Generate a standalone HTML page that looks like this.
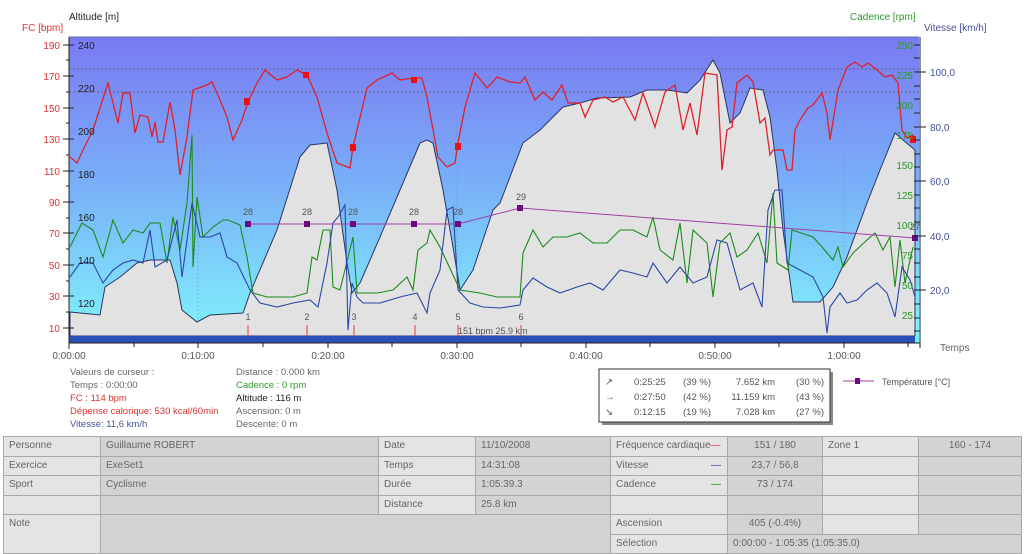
<!DOCTYPE html>
<html><head><meta charset="utf-8"><style>
body{margin:0;width:1024px;height:552px;background:#fff;overflow:hidden;font-family:"Liberation Sans",sans-serif;position:relative}
.t{position:absolute;font-size:9.5px;white-space:nowrap;color:#666}
table{position:absolute;left:3px;top:436px;border-collapse:collapse;font-size:10px;color:#666}
td{border:1px solid #a8a8a8;height:18.5px;padding:0 0 0 5px;white-space:nowrap;overflow:hidden;vertical-align:middle;line-height:12px}
.l{background:#e4e4e4}.v{background:#d3d3d3}.c{text-align:center;padding:0}
</style></head><body>
<svg width="1024" height="552" style="position:absolute;left:0;top:0" font-family="Liberation Sans, sans-serif">
<defs><linearGradient id="g" x1="0" y1="0" x2="0" y2="1"><stop offset="0" stop-color="#7a7af2"/><stop offset="0.5" stop-color="#79b0f8"/><stop offset="1" stop-color="#80f2fb"/></linearGradient></defs>
<rect x="69" y="37" width="850" height="300" fill="url(#g)"/>
<line x1="69" y1="37" x2="919" y2="37" stroke="#6a6ab0" stroke-width="1"/>
<g stroke="#8a8ac8" stroke-dasharray="2,2" stroke-width="0.7" opacity="0.7">
<line x1="198" y1="37" x2="198" y2="336"/><line x1="328" y1="37" x2="328" y2="336"/><line x1="457" y1="37" x2="457" y2="336"/><line x1="586" y1="37" x2="586" y2="336"/><line x1="715" y1="37" x2="715" y2="336"/><line x1="844" y1="37" x2="844" y2="336"/>
</g>
<g stroke="#555" stroke-dasharray="2,2" stroke-width="0.8"><line x1="69" y1="69" x2="919" y2="69"/><line x1="69" y1="92" x2="919" y2="92"/></g>
<polygon fill="#e2e2e2" stroke="#2a3560" stroke-width="1" points="70,312 100,315 105,287 120,277 137,263 150,260 170,260 177,283 182,310 197,322 210,315 243,313 250,293 277,230 300,157 310,145 327,143 337,190 347,263 352,293 360,283 380,237 400,190 420,143 427,140 433,143 443,190 453,247 460,290 473,270 493,210 500,203 523,143 540,130 563,107 580,103 597,98 630,97 647,90 667,90 687,93 700,80 713,60 720,73 730,123 740,113 750,88 763,90 770,117 777,170 783,230 793,302 820,302 833,287 847,257 867,203 880,170 895,133 903,140 915,150 915,336 70,336"/>
<rect x="69" y="336" width="846" height="7" fill="#2a4fb5"/>
<rect x="915" y="336" width="4" height="7" fill="#6ef0fb"/>
<g stroke="#e04040" stroke-width="1"><line x1="248" y1="325" x2="248" y2="336"/><line x1="307" y1="325" x2="307" y2="336"/><line x1="354" y1="325" x2="354" y2="336"/><line x1="415" y1="325" x2="415" y2="336"/><line x1="458" y1="325" x2="458" y2="336"/><line x1="521" y1="325" x2="521" y2="336"/></g>
<g font-size="9" fill="#555" text-anchor="middle"><text x="248" y="320">1</text><text x="307" y="320">2</text><text x="354" y="320">3</text><text x="415" y="320">4</text><text x="458" y="320">5</text><text x="521" y="320">6</text></g>
<text x="458" y="334" font-size="9" fill="#555">151 bpm 25.9 km</text>
<polyline fill="none" stroke="#1c8a1c" stroke-width="1.1" points="70,247 82,223 93,230 103,257 113,220 123,243 133,230 143,233 150,223 160,223 167,263 173,217 180,250 187,203 192,135 193,267 197,197 203,237 213,227 223,220 228,220 240,225 247,257 253,293 267,297 293,297 307,293 312,257 317,260 323,230 330,230 333,287 340,290 353,237 357,293 377,293 393,290 407,277 413,290 418,250 427,243 430,230 440,247 460,290 480,293 497,297 520,297 523,253 533,230 543,247 553,237 567,237 580,233 593,243 607,243 620,230 633,230 647,237 653,217 660,250 673,260 680,223 687,283 693,230 707,243 713,297 720,243 730,233 737,257 747,250 758,233 767,263 773,193 777,263 788,270 792,230 813,237 822,247 833,260 838,247 843,267 853,253 867,240 875,233 883,250 890,237 895,287 900,240 905,283 913,247"/>
<polyline fill="none" stroke="#2b47a8" stroke-width="1.1" points="70,277 80,263 93,263 103,283 113,270 123,263 133,260 143,263 150,230 155,267 167,260 177,220 182,277 192,203 200,237 210,237 220,233 227,257 237,263 250,290 260,303 277,307 293,303 310,300 318,307 327,263 333,223 338,217 345,205 348,330 352,283 357,297 363,303 380,303 400,297 417,293 427,313 430,293 440,270 447,210 453,207 458,290 470,303 483,307 500,308 520,305 523,290 533,278 547,287 560,293 577,287 590,283 603,290 620,270 633,273 647,277 653,263 667,283 680,267 693,283 707,277 717,240 727,243 740,290 753,283 762,307 768,210 775,190 782,190 787,263 813,277 823,297 827,333 830,307 840,293 847,303 857,300 867,290 877,283 887,293 895,317 902,267 910,280 915,297"/>
<polyline fill="none" stroke="#e0202a" stroke-width="1.3" points="70,157 77,163 83,150 93,130 108,83 118,123 123,93 130,93 135,133 140,115 148,117 152,137 155,122 158,142 163,142 170,102 175,130 180,175 187,137 193,90 207,85 212,82 220,100 227,117 233,140 242,120 248,102 257,83 265,70 277,80 287,77 297,70 307,75 317,97 327,133 337,163 350,168 353,147 367,88 377,80 392,73 400,80 413,78 422,78 427,97 438,157 447,167 455,163 458,143 465,107 475,73 487,88 497,77 510,82 520,83 525,77 535,100 543,92 552,100 562,85 568,103 580,103 585,117 593,100 605,97 613,102 623,97 635,120 643,93 655,127 665,92 675,85 683,130 690,103 697,135 705,73 717,75 722,170 727,130 732,127 737,83 747,75 753,82 760,123 765,118 770,155 773,150 783,150 787,170 792,170 795,130 800,120 808,108 813,105 822,93 827,113 830,140 838,90 847,67 855,62 862,67 868,63 877,70 885,77 892,75 898,83 902,130 907,138 913,135 915,140"/>
<g fill="#ee1010"><rect x="244" y="98" width="6" height="7"/><rect x="303" y="72" width="6" height="6"/><rect x="350" y="144" width="6" height="7"/><rect x="411" y="77" width="6" height="6"/><rect x="455" y="143" width="6" height="7"/><rect x="910" y="136" width="6" height="7"/></g>
<polyline fill="none" stroke="#a040a0" stroke-width="1" points="248,224 458,224 520,208 915,238"/>
<g fill="#6a0a80"><rect x="245" y="221" width="6" height="6"/><rect x="304" y="221" width="6" height="6"/><rect x="350" y="221" width="6" height="6"/><rect x="411" y="221" width="6" height="6"/><rect x="455" y="221" width="6" height="6"/><rect x="517" y="205" width="6" height="6"/><rect x="912" y="235" width="6" height="6"/></g>
<g font-size="9" fill="#555" text-anchor="middle"><text x="248" y="215">28</text><text x="307" y="215">28</text><text x="353" y="215">28</text><text x="414" y="215">28</text><text x="458" y="215">28</text><text x="521" y="200">29</text><text x="915" y="230">27</text></g>
<line x1="69" y1="37" x2="69" y2="348" stroke="#222"/>
<line x1="920" y1="37" x2="920" y2="348" stroke="#222"/>
<line x1="69" y1="343" x2="920" y2="343" stroke="#222"/>
<g stroke="#222" stroke-width="1">
<line x1="63" y1="45" x2="74" y2="45"/><line x1="63" y1="76" x2="74" y2="76"/><line x1="63" y1="108" x2="74" y2="108"/><line x1="63" y1="139" x2="74" y2="139"/><line x1="63" y1="171" x2="74" y2="171"/><line x1="63" y1="202" x2="74" y2="202"/><line x1="63" y1="233" x2="74" y2="233"/><line x1="63" y1="265" x2="74" y2="265"/><line x1="63" y1="296" x2="74" y2="296"/><line x1="63" y1="328" x2="74" y2="328"/>
<line x1="66" y1="60" x2="69" y2="60"/><line x1="66" y1="92" x2="69" y2="92"/><line x1="66" y1="123" x2="69" y2="123"/><line x1="66" y1="155" x2="69" y2="155"/><line x1="66" y1="186" x2="69" y2="186"/><line x1="66" y1="218" x2="69" y2="218"/><line x1="66" y1="249" x2="69" y2="249"/><line x1="66" y1="281" x2="69" y2="281"/><line x1="66" y1="312" x2="69" y2="312"/>
<line x1="69" y1="343" x2="69" y2="349"/><line x1="134" y1="343" x2="134" y2="347"/><line x1="198" y1="343" x2="198" y2="348"/><line x1="263" y1="343" x2="263" y2="347"/><line x1="328" y1="343" x2="328" y2="348"/><line x1="392" y1="343" x2="392" y2="347"/><line x1="457" y1="343" x2="457" y2="348"/><line x1="521" y1="343" x2="521" y2="347"/><line x1="586" y1="343" x2="586" y2="348"/><line x1="650" y1="343" x2="650" y2="347"/><line x1="715" y1="343" x2="715" y2="348"/><line x1="779" y1="343" x2="779" y2="347"/><line x1="844" y1="343" x2="844" y2="348"/><line x1="908" y1="343" x2="908" y2="347"/>
</g>
<g stroke="#222">
<line x1="914" y1="72" x2="926" y2="72"/><line x1="914" y1="127" x2="926" y2="127"/><line x1="914" y1="181" x2="926" y2="181"/><line x1="914" y1="236" x2="926" y2="236"/><line x1="914" y1="290" x2="926" y2="290"/>
<line x1="914" y1="45" x2="920" y2="45"/><line x1="914" y1="58" x2="920" y2="58"/><line x1="914" y1="86" x2="920" y2="86"/><line x1="914" y1="99" x2="920" y2="99"/><line x1="914" y1="113" x2="920" y2="113"/><line x1="914" y1="140" x2="920" y2="140"/><line x1="914" y1="154" x2="920" y2="154"/><line x1="914" y1="167" x2="920" y2="167"/><line x1="914" y1="195" x2="920" y2="195"/><line x1="914" y1="208" x2="920" y2="208"/><line x1="914" y1="222" x2="920" y2="222"/><line x1="914" y1="249" x2="920" y2="249"/><line x1="914" y1="263" x2="920" y2="263"/><line x1="914" y1="277" x2="920" y2="277"/><line x1="914" y1="304" x2="920" y2="304"/><line x1="914" y1="318" x2="920" y2="318"/><line x1="914" y1="331" x2="920" y2="331"/>
</g>
<g font-size="10" fill="#e03030" text-anchor="end"><text x="60" y="49">190</text><text x="60" y="80">170</text><text x="60" y="112">150</text><text x="60" y="143">130</text><text x="60" y="175">110</text><text x="60" y="206">90</text><text x="60" y="237">70</text><text x="60" y="269">50</text><text x="60" y="300">30</text><text x="60" y="332">10</text></g>
<g font-size="10" fill="#222"><text x="78" y="49">240</text><text x="78" y="92">220</text><text x="78" y="135">200</text><text x="78" y="178">180</text><text x="78" y="221">160</text><text x="78" y="264">140</text><text x="78" y="307">120</text></g>
<g font-size="10" fill="#2a9a2a" text-anchor="end"><text x="913" y="49">250</text><text x="913" y="79">225</text><text x="913" y="109">200</text><text x="913" y="139">175</text><text x="913" y="169">150</text><text x="913" y="199">125</text><text x="913" y="229">100</text><text x="913" y="259">75</text><text x="913" y="289">50</text><text x="913" y="319">25</text></g>
<g font-size="10" fill="#44509a"><text x="930" y="76">100,0</text><text x="930" y="131">80,0</text><text x="930" y="185">60,0</text><text x="930" y="240">40,0</text><text x="930" y="294">20,0</text></g>
<g font-size="10" fill="#555" text-anchor="middle"><text x="69" y="359">0:00:00</text><text x="198" y="359">0:10:00</text><text x="328" y="359">0:20:00</text><text x="457" y="359">0:30:00</text><text x="586" y="359">0:40:00</text><text x="715" y="359">0:50:00</text><text x="844" y="359">1:00:00</text></g>
<text x="940" y="351" font-size="10" fill="#666">Temps</text>
<text x="22" y="31" font-size="10" fill="#e03030">FC [bpm]</text>
<text x="69" y="20" font-size="10" fill="#222">Altitude  [m]</text>
<text x="850" y="20" font-size="10" fill="#2a9a2a">Cadence [rpm]</text>
<text x="924" y="31" font-size="10" fill="#44509a">Vitesse [km/h]</text>
<rect x="602" y="372" width="231" height="53" fill="#888"/>
<rect x="599" y="369" width="231" height="53" fill="#fff" stroke="#333"/>
<g font-size="9.5" fill="#555"><text x="605" y="385">↗</text><text x="605" y="400">→</text><text x="605" y="415">↘</text>
<text x="634" y="385">0:25:25</text><text x="683" y="385">(39 %)</text><text x="775" y="385" text-anchor="end">7.652 km</text><text x="796" y="385">(30 %)</text>
<text x="634" y="400">0:27:50</text><text x="683" y="400">(42 %)</text><text x="775" y="400" text-anchor="end">11.159 km</text><text x="796" y="400">(43 %)</text>
<text x="634" y="415">0:12:15</text><text x="683" y="415">(19 %)</text><text x="775" y="415" text-anchor="end">7.028 km</text><text x="796" y="415">(27 %)</text></g>
<line x1="843" y1="381" x2="874" y2="381" stroke="#a040a0"/><rect x="855" y="378" width="5" height="6" fill="#6a0a80"/>
<text x="882" y="385" font-size="9" fill="#555">Température [°C]</text>
</svg>
<div class="t" style="left:70px;top:367px">Valeurs de curseur :</div>
<div class="t" style="left:70px;top:380px">Temps : 0:00:00</div>
<div class="t" style="left:70px;top:393px;color:#e03030">FC : 114 bpm</div>
<div class="t" style="left:70px;top:406px;color:#e03030">Dépense calorique: 530 kcal/60min</div>
<div class="t" style="left:70px;top:419px;color:#44509a">Vitesse: 11,6 km/h</div>
<div class="t" style="left:236px;top:367px">Distance : 0.000 km</div>
<div class="t" style="left:236px;top:380px;color:#2a9a2a">Cadence : 0 rpm</div>
<div class="t" style="left:236px;top:393px;color:#222">Altitude : 116 m</div>
<div class="t" style="left:236px;top:406px">Ascension: 0 m</div>
<div class="t" style="left:236px;top:419px">Descente: 0 m</div>
<table>
<colgroup><col style="width:97px"><col style="width:278px"><col style="width:97px"><col style="width:135px"><col style="width:117px"><col style="width:95px"><col style="width:96px"><col style="width:103px"></colgroup>
<tr><td class="l">Personne</td><td class="v">Guillaume ROBERT</td><td class="l">Date</td><td class="v">11/10/2008</td><td class="l">Fréquence cardiaque<span style="color:#e03030">—</span></td><td class="v c">151 / 180</td><td class="l">Zone 1</td><td class="v c">160 - 174</td></tr>
<tr><td class="l">Exercice</td><td class="v">ExeSet1</td><td class="l">Temps</td><td class="v">14:31:08</td><td class="l">Vitesse <span style="float:right;color:#2b47a8;padding-right:6px">—</span></td><td class="v c">23,7 / 56,8</td><td class="l"></td><td class="v"></td></tr>
<tr><td class="l">Sport</td><td class="v">Cyclisme</td><td class="l">Durée</td><td class="v">1:05:39.3</td><td class="l">Cadence <span style="float:right;color:#1c8a1c;padding-right:6px">—</span></td><td class="v c">73 / 174</td><td class="l"></td><td class="v"></td></tr>
<tr><td class="l"></td><td class="v"></td><td class="l">Distance</td><td class="v">25.8 km</td><td class="l"></td><td class="v"></td><td class="l"></td><td class="v"></td></tr>
<tr><td class="l" rowspan="2" style="vertical-align:top;padding-top:3px">Note</td><td class="v" colspan="3" rowspan="2"></td><td class="l">Ascension</td><td class="v c">405 (-0.4%)</td><td class="l"></td><td class="v"></td></tr>
<tr><td class="l">Sélection</td><td class="v" colspan="3">0:00:00 - 1:05:35 (1:05:35.0)</td></tr>
</table>
</body></html>
